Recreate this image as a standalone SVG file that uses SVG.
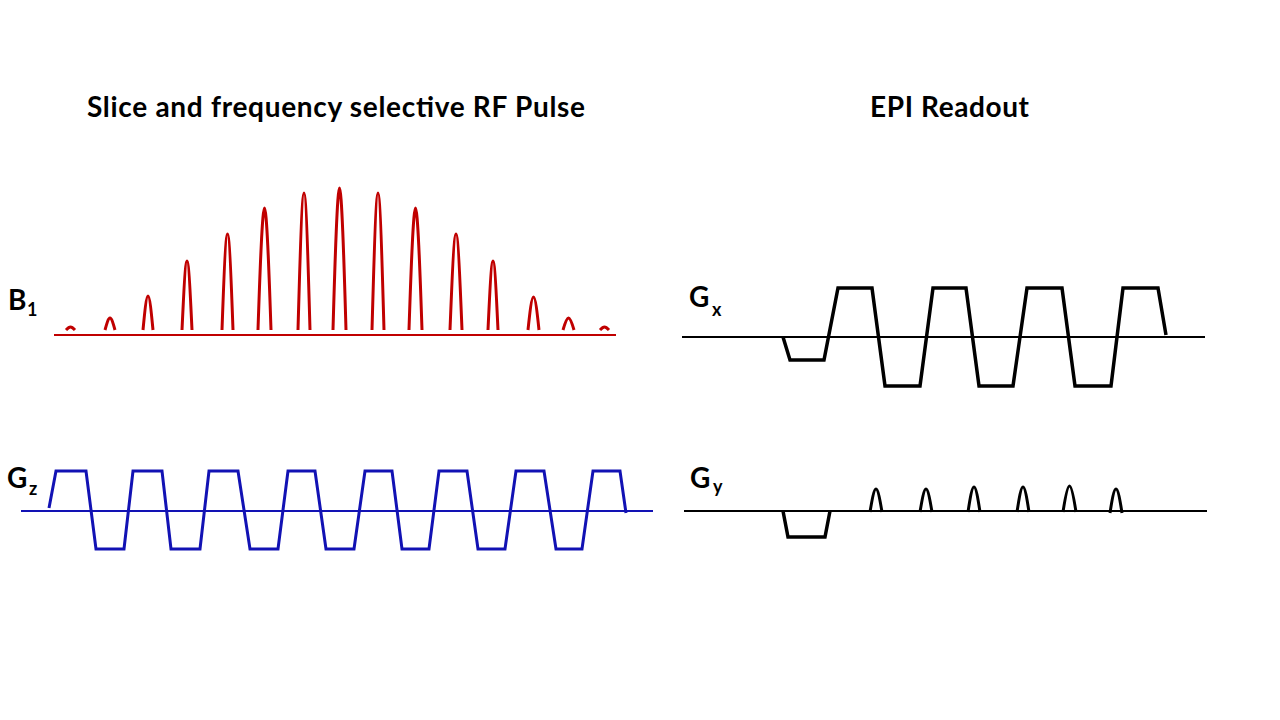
<svg xmlns="http://www.w3.org/2000/svg" width="1280" height="720" viewBox="0 0 1280 720">
<style>
.title{font-family:Lato,"Open Sans","Liberation Sans",sans-serif;font-weight:bold;font-size:28px;fill:#000}
.lbl{font-family:Lato,"Open Sans","Liberation Sans",sans-serif;font-weight:bold;font-size:28px;fill:#000}
.sub{font-size:18px}
.red{fill:none;stroke:#C00000;stroke-width:3}
.redAxis{fill:none;stroke:#C00000;stroke-width:2}
.blue{fill:none;stroke:#1212B4;stroke-width:3;stroke-linejoin:miter}
.blueAxis{fill:none;stroke:#1212B4;stroke-width:2}
.blk{fill:none;stroke:#000;stroke-width:3.5;stroke-linejoin:miter}
.blkThin{fill:none;stroke:#000;stroke-width:3}
.axis{fill:none;stroke:#000;stroke-width:2}
</style>
<rect width="1280" height="720" fill="#fff"/>
<g id="titles">
<text class="title" x="87" y="117" textLength="498">Slice and frequency selective RF Pulse</text>
<text class="title" x="870" y="117" textLength="159">EPI Readout</text>
</g>
<g id="labels">
<text class="lbl" x="8" y="310">B<tspan class="sub" x="27" y="316">1</tspan></text>
<text class="lbl" x="7" y="488">G<tspan class="sub" x="29" y="495">z</tspan></text>
<text class="lbl" x="689" y="307">G<tspan class="sub" x="712" y="316">x</tspan></text>
<text class="lbl" x="690" y="488">G<tspan class="sub" x="713" y="493">y</tspan></text>
</g>
<g id="connectors">
<line class="redAxis" x1="54" y1="335" x2="616" y2="335"/>
<line class="blueAxis" x1="21" y1="511" x2="653" y2="511"/>
<line class="axis" x1="682" y1="337" x2="1205" y2="337"/>
<line class="axis" x1="684" y1="511" x2="1207" y2="511"/>
</g>
<g id="B1">
<path class="red" d="M66,330 C67.5,328.4 69,327 70.5,327 S73.5,328.4 75,330"/>
<path class="red" d="M105,330 C106.7,323.8 108.3,318 110,318 S113.3,323.8 115,330"/>
<path class="red" d="M143,330 C144.7,312.3 146.3,296 148,296 S151.3,312.3 153,330"/>
<path class="red" d="M182,330 C183.7,294.1 185.3,261 187,261 S190.3,294.1 192,330"/>
<path class="red" d="M222,330 C223.8,280.1 225.7,234 227.5,234 S231.2,280.1 233,330"/>
<path class="red" d="M258,330 C260.1,266.6 262.4,208 264.5,208 S268.9,266.6 271,330"/>
<path class="red" d="M298,330 C300,258.8 302,193 304,193 S308,258.8 310,330"/>
<path class="red" d="M333,330 C335.1,256.2 337.4,188 339.5,188 S343.9,256.2 346,330"/>
<path class="red" d="M372,330 C374,258.8 376,193 378,193 S382,258.8 384,330"/>
<path class="red" d="M409,330 C411.1,266.6 413.4,208 415.5,208 S419.9,266.6 422,330"/>
<path class="red" d="M450,330 C452,280.1 454,234 456,234 S460,280.1 462,330"/>
<path class="red" d="M488,330 C489.7,294.1 491.3,261 493,261 S496.3,294.1 498,330"/>
<path class="red" d="M528,330 C529.8,312.8 531.7,297 533.5,297 S537.2,312.8 539,330"/>
<path class="red" d="M563,330 C564.8,323.8 566.7,318 568.5,318 S572.2,323.8 574,330"/>
<path class="red" d="M600,330 C601.5,328.4 603,327 604.5,327 S607.5,328.4 609,330"/>
</g>
<g id="Gz">
<polyline class="blue" points="49,508 56,471 86,471 96,549 124,549 133,471 162,471 171,549 200,549 209,471 238,471 250,549 278,549 288,471 315,471 326,549 354,549 365,471 392,471 402,549 429,549 439,471 467,471 478,549 505,549 516,471 544,471 556,549 582,549 593,471 620,471 626,513"/>
</g>
<g id="Gx">
<polyline class="blk" points="783,337 790,360 824,360 838,288 872,288 885,386 920,386 933,288 966,288 979,386 1013,386 1027,288 1062,288 1075,386 1111,386 1123,288 1158,288 1166,335"/>
</g>
<g id="Gy">
<polyline class="blk" points="783,511 788,537 825,537 830,511"/>
<path class="blkThin" d="M870,512 C872,500 874,489 876,489 S880,500 882,512"/>
<path class="blkThin" d="M920,512 C922,500 924,489 926,489 S930,500 932,512"/>
<path class="blkThin" d="M968,512 C970,499 972,487 974,487 S978,499 980,512"/>
<path class="blkThin" d="M1017,512 C1019,499 1021,487 1023,487 S1027,499 1029,512"/>
<path class="blkThin" d="M1063,512 C1065,499 1067.5,486 1069.5,486 S1074,499 1076,512"/>
<path class="blkThin" d="M1110,513 C1112,500 1114,489 1116,489 S1120,500 1122,513"/>
</g>
</svg>
